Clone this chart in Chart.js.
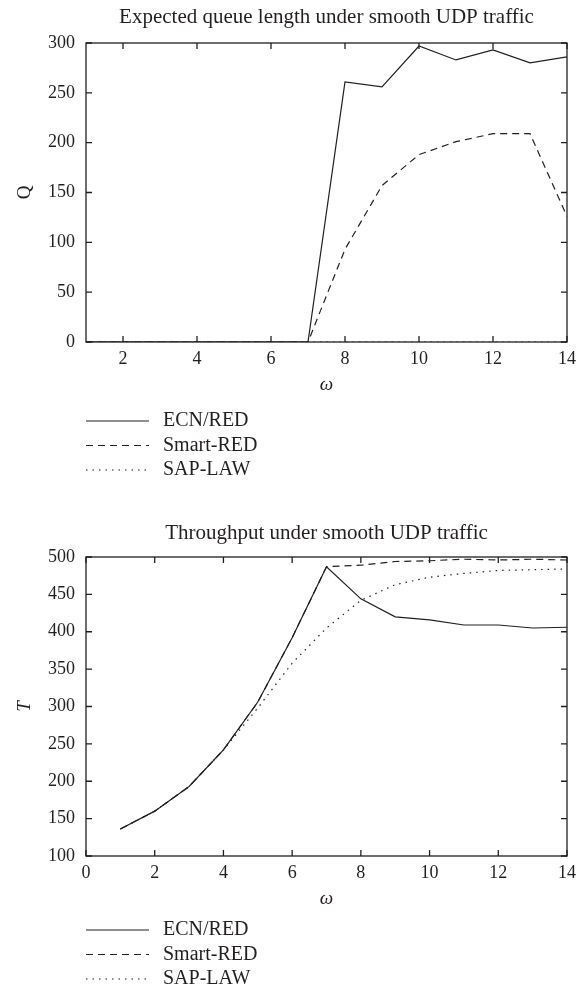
<!DOCTYPE html>
<html>
<head>
<meta charset="utf-8">
<script src="https://cdn.jsdelivr.net/npm/chart.js@4.4.0/dist/chart.umd.min.js"></script>
<style>
  body { margin: 0; background: #fff; }
  canvas { display: block; }
</style>
</head>
<body>
<canvas id="queueChart" width="577" height="495"></canvas>
<canvas id="throughputChart" width="577" height="496"></canvas>
<script>
// omega values and series names
const omega = [1, 2, 3, 4, 5, 6, 7, 8, 9, 10, 11, 12, 13, 14];
const seriesNames = ['ECN/RED', 'Smart-RED', 'SAP-LAW'];

// expected queue length Q
const queueEcn = [0, 0, 0, 0, 0, 0, 0, 261, 256, 297, 283, 293, 280, 286];
const queueSmart = [0, 0, 0, 0, 0, 0, 0, 93, 157, 188, 201, 209, 209, 126];
const queueSap = [0, 0, 0, 0, 0, 0, 0, 0, 0, 0, 0, 0, 0, 0];

// throughput T
const thrEcn = [136, 160, 193, 242, 306, 392, 487, 444, 420, 416, 409, 409, 405, 406];
const thrSmart = [136, 160, 193, 242, 306, 392, 487, 489, 494, 495, 497, 496, 497, 496];
const thrSap = [136, 160, 193, 242, 298, 358, 405, 442, 463, 473, 478, 482, 483, 484];

// tick labels
const queueXTicks = [2, 4, 6, 8, 10, 12, 14];
const queueYTicks = [0, 50, 100, 150, 200, 250, 300];
const thrXTicks = [0, 2, 4, 6, 8, 10, 12, 14];
const thrYTicks = [100, 150, 200, 250, 300, 350, 400, 450, 500];

const ink = '#231f20';
const dashes = [[], [7, 5], [1.5, 5]];
Chart.defaults.font.family = "'Liberation Serif', 'DejaVu Serif', serif";
Chart.defaults.color = ink;

// title centred over the plot box, not the whole canvas
const plotTitle = {
  id: 'plotTitle',
  afterDraw(chart, args, opts) {
    const { ctx, chartArea: a } = chart;
    ctx.save();
    ctx.font = "21px 'Liberation Serif'";
    ctx.fillStyle = ink;
    ctx.textAlign = 'center';
    ctx.textBaseline = 'middle';
    ctx.fillText(opts.text, (a.left + a.right) / 2, opts.y);
    ctx.restore();
  }
};

// box round the plot, ticks pointing inwards on all four sides
const frameTicks = {
  id: 'frameTicks',
  afterDatasetsDraw(chart) {
    const { ctx, chartArea: a, scales: { x, y } } = chart;
    ctx.save();
    ctx.strokeStyle = ink;
    ctx.lineWidth = 1.3;
    ctx.strokeRect(a.left, a.top, a.right - a.left, a.bottom - a.top);
    ctx.beginPath();
    x.ticks.forEach(t => {
      const px = x.getPixelForValue(t.value);
      ctx.moveTo(px, a.bottom); ctx.lineTo(px, a.bottom - 6);
      ctx.moveTo(px, a.top); ctx.lineTo(px, a.top + 6);
    });
    y.ticks.forEach(t => {
      const py = y.getPixelForValue(t.value);
      ctx.moveTo(a.left, py); ctx.lineTo(a.left + 6, py);
      ctx.moveTo(a.right, py); ctx.lineTo(a.right - 6, py);
    });
    ctx.stroke();
    ctx.restore();
  }
};

// legend below the x axis, one row per series
const lineKey = {
  id: 'lineKey',
  afterDraw(chart, args, opts) {
    const { ctx, chartArea: a } = chart;
    ctx.save();
    ctx.font = "20px 'Liberation Serif'";
    ctx.fillStyle = ink;
    ctx.strokeStyle = ink;
    ctx.lineWidth = 1.2;
    ctx.textBaseline = 'middle';
    chart.data.datasets.forEach((ds, i) => {
      const yy = a.bottom + opts.offset + i * 24.5;
      ctx.setLineDash(ds.borderDash || []);
      ctx.beginPath();
      ctx.moveTo(a.left, yy);
      ctx.lineTo(a.left + 63, yy);
      ctx.stroke();
      ctx.setLineDash([]);
      ctx.fillText(ds.label, a.left + 77, yy);
    });
    ctx.restore();
  }
};

function makeChart(id, opts) {
  const datasets = opts.series.map((vals, i) => ({
    label: seriesNames[i],
    data: omega.map((w, j) => ({ x: w, y: vals[j] })),
    borderColor: ink,
    borderWidth: 1.2,
    borderDash: dashes[i],
    pointRadius: 0,
    fill: false,
    tension: 0
  }));
  return new Chart(document.getElementById(id), {
    type: 'line',
    data: { datasets },
    options: {
      responsive: false,
      animation: false,
      layout: { padding: { left: 0, right: 10, top: opts.padTop, bottom: opts.padBottom } },
      plugins: {
        legend: { display: false },
        tooltip: { enabled: false },
        title: { display: false },
        plotTitle: { text: opts.title, y: opts.titleY },
        lineKey: { offset: opts.keyOffset }
      },
      scales: {
        x: {
          type: 'linear',
          min: opts.xMin,
          max: 14,
          afterBuildTicks: s => { s.ticks = opts.xTicks.map(v => ({ value: v })); },
          afterFit: s => { s.height = 54; s.paddingLeft = 0; s.paddingRight = 0; },
          grid: { display: false, drawTicks: false },
          border: { display: false },
          ticks: { color: ink, font: { size: 18 }, padding: 6, maxRotation: 0 },
          title: { display: true, text: 'ω', color: ink, font: { size: 19, style: 'italic' }, padding: 0 }
        },
        y: {
          min: opts.yMin,
          max: opts.yMax,
          afterBuildTicks: s => { s.ticks = opts.yTicks.map(v => ({ value: v })); },
          afterFit: s => { s.width = 86; },
          grid: { display: false, drawTicks: false },
          border: { display: false },
          ticks: { color: ink, font: { size: 18 }, padding: 11 },
          title: { display: true, text: opts.yTitle, color: ink, font: { size: 19, style: opts.yStyle }, padding: 14 }
        }
      }
    },
    plugins: [frameTicks, lineKey, plotTitle]
  });
}

makeChart('queueChart', {
  title: 'Expected queue length under smooth UDP traffic',
  series: [queueEcn, queueSmart, queueSap],
  xMin: 1, xTicks: queueXTicks,
  yMin: 0, yMax: 300, yTicks: queueYTicks,
  yTitle: 'Q', yStyle: 'normal',
  titleY: 17, padTop: 43, padBottom: 99, keyOffset: 79
});

makeChart('throughputChart', {
  title: 'Throughput under smooth UDP traffic',
  series: [thrEcn, thrSmart, thrSap],
  xMin: 0, xTicks: thrXTicks,
  yMin: 100, yMax: 500, yTicks: thrYTicks,
  yTitle: 'T', yStyle: 'italic',
  titleY: 38, padTop: 62, padBottom: 81, keyOffset: 74
});
</script>
</body>
</html>
